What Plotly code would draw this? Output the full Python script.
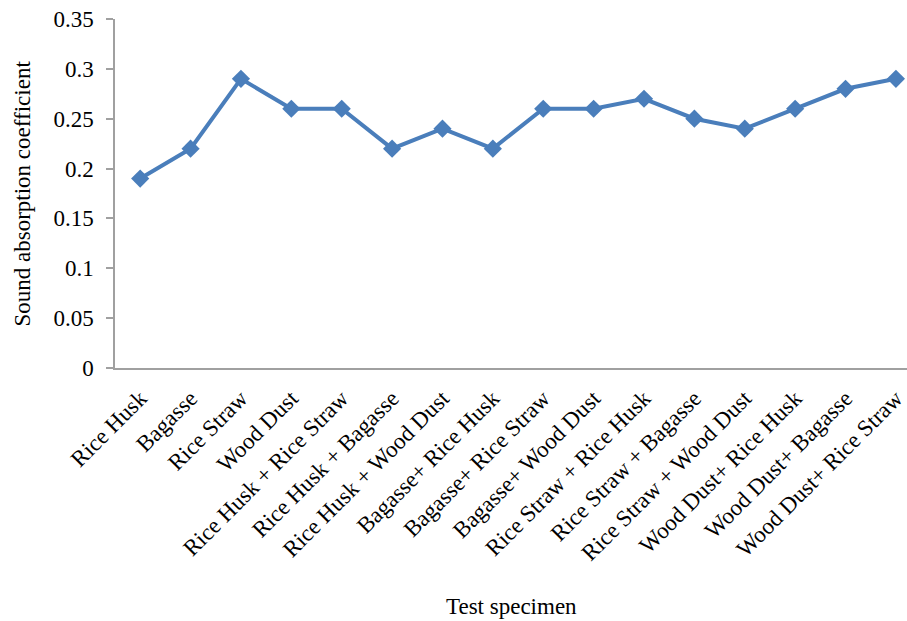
import plotly.graph_objects as go

categories = ["Rice Husk", "Bagasse", "Rice Straw", "Wood Dust",
              "Rice Husk + Rice Straw", "Rice Husk + Bagasse", "Rice Husk + Wood Dust",
              "Bagasse+ Rice Husk", "Bagasse+ Rice Straw", "Bagasse+ Wood Dust",
              "Rice Straw + Rice Husk", "Rice Straw + Bagasse", "Rice Straw + Wood Dust",
              "Wood Dust+ Rice Husk", "Wood Dust+ Bagasse", "Wood Dust+ Rice Straw"]
values = [0.19, 0.22, 0.29, 0.26, 0.26, 0.22, 0.24, 0.22, 0.26, 0.26,
          0.27, 0.25, 0.24, 0.26, 0.28, 0.29]
y_ticks = [0, 0.05, 0.1, 0.15, 0.2, 0.25, 0.3, 0.35]
y_ticklabels = ["0", "0.05", "0.1", "0.15", "0.2", "0.25", "0.3", "0.35"]

FONT = "Liberation Serif"
FS = 23

fig = go.Figure()
fig.add_trace(go.Scatter(
    x=list(range(len(categories))), y=values, mode="lines+markers",
    line=dict(color="#4A7EBB", width=4),
    marker=dict(symbol="diamond", size=14, color="#4A7EBB"),
    showlegend=False, cliponaxis=False,
))

fig.update_layout(
    width=907, height=621,
    margin=dict(l=115, r=0, t=19, b=253),
    paper_bgcolor="white", plot_bgcolor="white",
    font=dict(family=FONT, size=FS, color="black"),
    xaxis=dict(
        range=[-0.5, 15.22],
        tickmode="array", tickvals=list(range(len(categories))), ticktext=categories,
        tickangle=-45, showgrid=False, zeroline=False,
        showline=True, linecolor="#A0A0A0", linewidth=1.5,
        ticks="", ticklen=0, ticklabelstandoff=6,
        ticklabeloverflow="allow",
        tickfont=dict(family=FONT, size=FS),
    ),
    yaxis=dict(
        range=[0, 0.35],
        tickmode="array", tickvals=y_ticks, ticktext=y_ticklabels,
        showgrid=False, zeroline=False,
        showline=True, linecolor="#A0A0A0", linewidth=1.5,
        ticks="outside", ticklen=7, tickcolor="#A0A0A0", tickwidth=1.5,
        ticklabelstandoff=8,
        tickfont=dict(family=FONT, size=FS),
    ),
    annotations=[
        dict(text="Test specimen", xref="paper", yref="paper", x=0.5, y=-0.682,
             xanchor="center", yanchor="middle", showarrow=False,
             font=dict(family=FONT, size=FS)),
        dict(text="Sound absorption coefficient", xref="paper", yref="paper",
             x=-0.1174, y=0.5, xanchor="center", yanchor="middle", textangle=-90,
             showarrow=False, font=dict(family=FONT, size=FS)),
    ],
)

fig.write_html("out.html")
